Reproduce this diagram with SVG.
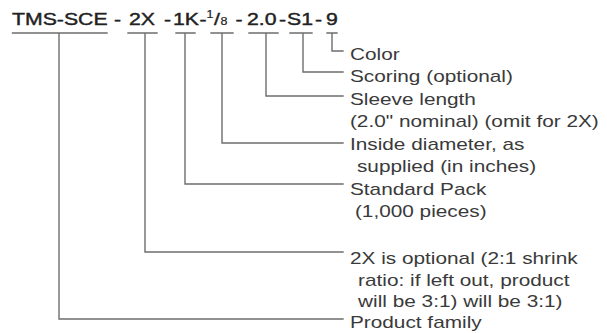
<svg xmlns="http://www.w3.org/2000/svg" width="607" height="333" viewBox="0 0 607 333">
<style>
.bg{fill:#ffffff}
.ln{fill:none;stroke:#6e6e6e;stroke-width:1.4;stroke-linecap:square}
.t{font-family:"Liberation Sans",Arial,Helvetica,sans-serif;font-size:16px;fill:#3a3a3a}
.h{font-family:"Liberation Sans",Arial,Helvetica,sans-serif;font-size:17px;fill:#222222;stroke:#222222;stroke-width:0.4}
.sm{font-size:10px;stroke-width:0.2}
</style>
<rect class="bg" x="0" y="0" width="607" height="333"/>
<g id="connectors">
<path class="ln" d="M12.5,33 H107 M59,33 V319 H343"/>
<path class="ln" d="M128,33 H157 M145,33 V252 H343"/>
<path class="ln" d="M176,33 H195 M185,33 V184 H343"/>
<path class="ln" d="M211,33 H233 M222,33 V143 H343"/>
<path class="ln" d="M249,33 H278 M266,33 V96 H343"/>
<path class="ln" d="M290,33 H312 M303,33 V72 H343"/>
<path class="ln" d="M327,33 H337 M332,33 V51 H343"/>
</g>
<g id="code" transform="scale(1.25 1)">
<text class="h" y="25"><tspan x="9.6">TMS-SCE</tspan><tspan x="91.2">-</tspan><tspan x="103.2">2X</tspan><tspan x="131.2">-</tspan><tspan x="138.4">1K</tspan><tspan x="159.6">-</tspan><tspan x="165.2" y="18" class="sm">1</tspan><tspan x="171.2" y="25">/</tspan><tspan x="176.4" y="25" class="sm">8</tspan><tspan x="188.4" y="25">-</tspan><tspan x="197.6">2.0</tspan><tspan x="223.2">-</tspan><tspan x="229.6">S1</tspan><tspan x="252">-</tspan><tspan x="260.8">9</tspan></text>
</g>
<g transform="scale(1.3 1)">
<g id="color"><text class="t" x="269.2" y="60">Color</text></g>
<g id="scoring"><text class="t" x="269.2" y="82.5">Scoring (optional)</text></g>
<g id="sleeve"><text class="t" x="269.2" y="105">Sleeve length</text><text class="t" x="269.2" y="127.5">(2.0" nominal) (omit for 2X)</text></g>
<g id="inside"><text class="t" x="269.2" y="150">Inside diameter, as</text><text class="t" x="274.6" y="172.5">supplied (in inches)</text></g>
<g id="pack"><text class="t" x="269.2" y="195">Standard Pack</text><text class="t" x="273" y="217.5">(1,000 pieces)</text></g>
<g id="ratio"><text class="t" x="269.2" y="264">2X is optional (2:1 shrink</text><text class="t" x="275.4" y="286">ratio: if left out, product</text><text class="t" x="275.4" y="307.5">will be 3:1)  will be 3:1)</text></g>
<g id="family"><text class="t" x="269.2" y="328">Product family</text></g>
</g>
</svg>
